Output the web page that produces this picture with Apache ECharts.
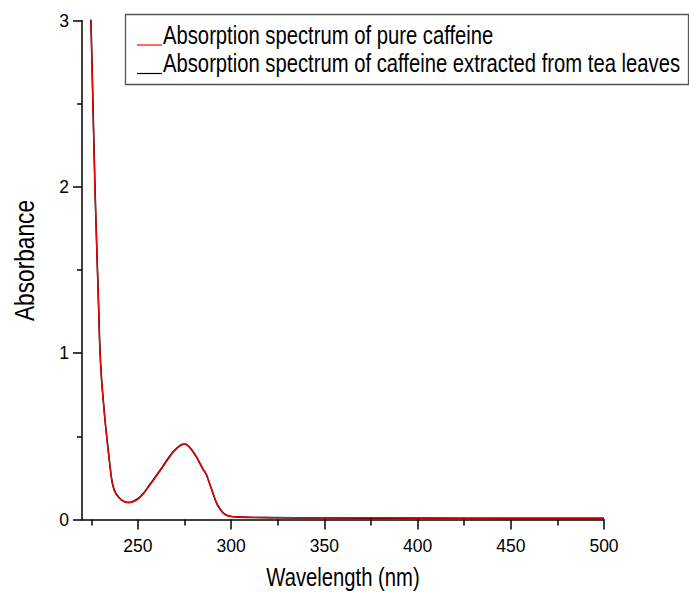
<!DOCTYPE html>
<html>
<head>
<meta charset="utf-8">
<script src="https://cdn.jsdelivr.net/npm/echarts@6/dist/echarts.min.js"></script>
<style>html,body{margin:0;padding:0;background:#fff;overflow:hidden}#c{width:689px;height:592px}</style>
</head>
<body>
<div id="c"></div>
<script>
// Data
const seriesNames = [
  'Absorption spectrum of pure caffeine',
  'Absorption spectrum of caffeine extracted from tea leaves'
];
const seriesColors = ['#ff0000', '#000000'];
const xTitle = 'Wavelength (nm)';
const yTitle = 'Absorbance';
const pureWavelength = [224.7,225,226,227,228,229,229.6,230.5,231.5,232.3,233.2,234.5,235.9,237,238,239.5,241,243,245,247,250,253,256,260,263.5,266,269,272,274,275.2,277,279,281.4,283,285,286.7,288.5,290.3,292,293.9,296,298,300,305,320,350,400,450,500];
const pureAbs = [3.05,2.9,2.43,1.97,1.6,1.24,1.02,0.84,0.7,0.6,0.5,0.37,0.24,0.185,0.158,0.135,0.118,0.105,0.101,0.105,0.122,0.155,0.2,0.262,0.318,0.36,0.405,0.437,0.45,0.453,0.444,0.418,0.378,0.345,0.303,0.272,0.215,0.158,0.105,0.067,0.038,0.025,0.019,0.015,0.012,0.01,0.009,0.008,0.008];
const teaWavelength = [224.6,225,226,227,228,229,229.6,230.5,231.5,232.3,233.2,234.5,235.9,237,238,239.5,241,243,245,247,250,253,256,260,263.5,266,269,272,274,275.2,277,279,281.4,283,285,286.7,288.5,290.3,292,293.9,296,298,300,305,320,350,400,450,500];
const teaAbs = [3.06,2.91,2.44,1.98,1.61,1.25,1.03,0.845,0.705,0.604,0.505,0.374,0.243,0.188,0.16,0.137,0.12,0.107,0.103,0.107,0.125,0.158,0.204,0.266,0.322,0.364,0.408,0.44,0.452,0.454,0.443,0.416,0.375,0.342,0.3,0.27,0.213,0.156,0.103,0.065,0.037,0.024,0.018,0.014,0.011,0.009,0.008,0.007,0.007];
const xTickLabels = [250,300,350,400,450,500];
const xMinorTicks = [225,275,325,375,425,475];
const xMin = 220, xMax = 500;
const yMin = 0, yMax = 3, yInterval = 1;

const zip = (xs, ys) => xs.map((x, i) => [x, ys[i]]);
const regular = "'Liberation Sans', Arial, sans-serif";
const narrowScale = 0.81;

// narrow-looking text (horizontally compressed), positioned by its vertical middle
function narrowText(text, x, y, size, align, rotation) {
  return {
    type: 'text', x: x, y: y, scaleX: narrowScale, scaleY: 1, rotation: rotation || 0, silent: true,
    style: {text: text, fontFamily: regular, fontSize: size, fill: '#000',
            align: align, verticalAlign: 'middle'}
  };
}

const graphics = [
  // legend frame
  {type: 'rect', shape: {x: 125.5, y: 14.5, width: 563, height: 70}, silent: true,
   style: {fill: 'none', stroke: '#555', lineWidth: 1.3}},
  // legend entries
  {type: 'line', shape: {x1: 137, y1: 45, x2: 162, y2: 45}, silent: true,
   style: {stroke: seriesColors[0], lineWidth: 1.2}},
  narrowText(seriesNames[0], 163, 35, 25, 'left'),
  {type: 'line', shape: {x1: 137, y1: 73.5, x2: 162, y2: 73.5}, silent: true,
   style: {stroke: seriesColors[1], lineWidth: 1.2}},
  narrowText(seriesNames[1], 163, 63.2, 25, 'left'),
  // axis titles
  narrowText(xTitle, 343, 577.3, 25, 'center'),
  narrowText(yTitle, 24.5, 260.5, 28, 'center', Math.PI / 2)
];

const chart = echarts.init(document.getElementById('c'), null, {renderer: 'svg'});
chart.setOption({
  animation: false,
  backgroundColor: '#fff',
  grid: {left: 82, right: 85, top: 20.5, bottom: 72.5, containLabel: false, outerBoundsMode: 'none'},
  legend: {show: false, data: seriesNames},
  graphic: graphics,
  xAxis: [{
    type: 'value', min: xMin, max: xMax,
    axisLine: {show: true, lineStyle: {color: '#000', width: 1.5}},
    axisTick: {show: true, length: 10, lineStyle: {color: '#000', width: 1.5}, customValues: xTickLabels},
    axisLabel: {fontFamily: regular, fontSize: 17.5, color: '#000', margin: 17, customValues: xTickLabels},
    splitLine: {show: false}
  }, {
    type: 'value', min: xMin, max: xMax, position: 'bottom',
    axisLine: {show: false},
    axisTick: {show: true, length: 6, lineStyle: {color: '#000', width: 1.5}, customValues: xMinorTicks},
    axisLabel: {show: false},
    splitLine: {show: false}
  }],
  yAxis: {
    type: 'value', min: yMin, max: yMax, interval: yInterval,
    axisLine: {show: true, lineStyle: {color: '#000', width: 1.5}},
    axisTick: {show: true, length: 9, lineStyle: {color: '#000', width: 1.5}},
    minorTick: {show: true, splitNumber: 2, length: 5, lineStyle: {color: '#000', width: 1.5}},
    axisLabel: {fontFamily: regular, fontSize: 17.5, color: '#000', margin: 13},
    splitLine: {show: false}
  },
  series: [{
    name: seriesNames[1], type: 'line', xAxisIndex: 0,
    data: zip(teaWavelength, teaAbs),
    showSymbol: false, smooth: 0.3, clip: true,
    lineStyle: {color: seriesColors[1], width: 1.6},
    itemStyle: {color: seriesColors[1]}
  }, {
    name: seriesNames[0], type: 'line', xAxisIndex: 0,
    data: zip(pureWavelength, pureAbs),
    showSymbol: false, smooth: 0.3, clip: true,
    lineStyle: {color: seriesColors[0], width: 1.3},
    itemStyle: {color: seriesColors[0]}
  }]
});
</script>
</body>
</html>
